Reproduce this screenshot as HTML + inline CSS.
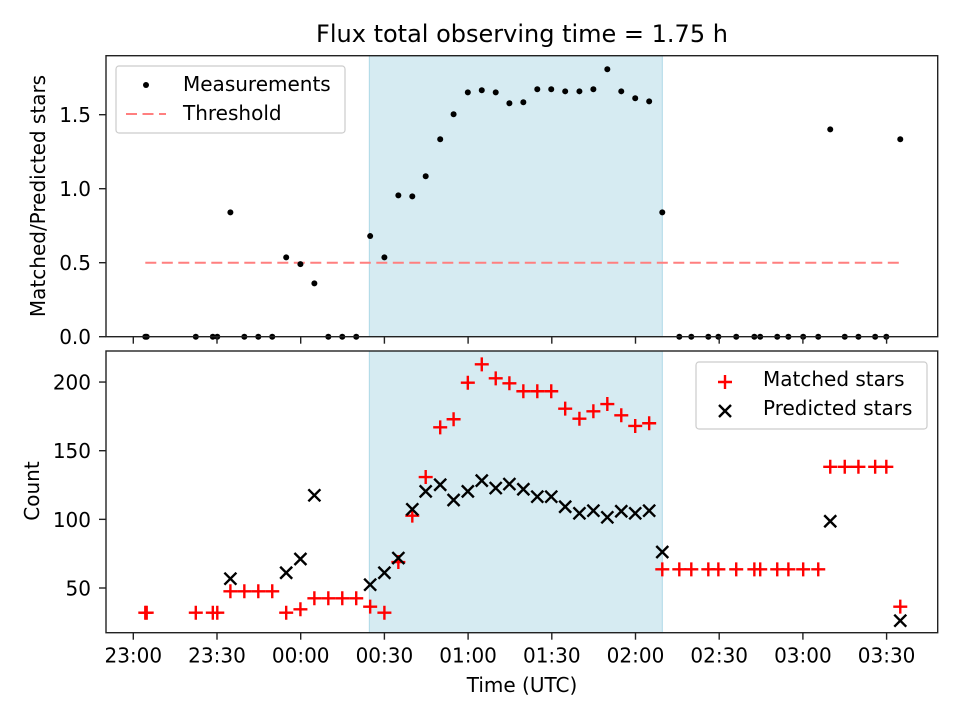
<!DOCTYPE html>
<html><head><meta charset="utf-8"><style>
body{margin:0;background:#fff}
svg text{font-family:"DejaVu Sans","Liberation Sans",sans-serif;fill:#000}
</style></head><body>
<svg id="chart" width="960" height="720" viewBox="0 0 960 720" xmlns="http://www.w3.org/2000/svg">
<rect width="960" height="720" fill="#fff"/>
<text x="522" y="42" font-size="24" text-anchor="middle">Flux total observing time = 1.75 h</text>
<g id="gtop"></g><g id="gbot"></g>
</svg>
<script>
// minutes after 23:00 UTC
const times=[4.3,4.8,22.4,28.5,30.1,34.8,39.8,44.8,49.8,54.8,59.9,64.9,69.9,74.9,79.9,84.9,90.0,95.0,100.0,104.8,110.0,114.8,119.9,124.9,129.9,134.8,139.8,144.8,149.8,154.8,159.9,164.9,169.9,174.9,179.9,184.9,189.6,195.7,200,206.1,209.7,216.1,222.6,224.7,230.8,234.8,240.1,245.5,249.8,255,259.9,265.9,269.9,274.9];
const ratio=[0,0,0,0,0,0.84,0,0,0,0.536,0.49,0.36,0,0,0,0.68,0.536,0.955,0.948,1.084,1.334,1.503,1.651,1.665,1.651,1.577,1.584,1.672,1.672,1.658,1.658,1.672,1.807,1.658,1.611,1.59,0.84,0,0,0,0,0,0,0,0,0,0,0,1.401,0,0,0,0,1.334];
const matched=[32,32,32,32,32,47.6,47.6,47.6,47.6,32,34.5,42.5,42.5,42.5,42.5,36.4,32,68.9,102.7,130.8,167,172.9,199.5,212.9,202.7,199.1,193.3,193.3,193.3,180.6,173.3,178.7,184,175.8,168,170,63.6,63.6,63.6,63.6,63.6,63.6,63.6,63.6,63.6,63.6,63.6,63.6,138.3,138.3,138.3,138.3,138.3,36.4];
const predicted=[null,null,null,null,null,56.8,null,null,null,61.1,71.1,117.5,null,null,null,52.4,61.1,71.8,107.3,120.4,125.2,114.1,120.4,128.2,122.8,125.7,121.9,116.5,116.5,109.2,104.4,106.3,101.5,105.9,104.4,106.3,76.2,null,null,null,null,null,null,null,null,null,null,null,98.6,null,null,null,null,26.2];
const threshold=0.5;
const spanStart=84.6, spanEnd=189.6;
const xTicks=[0,30,60,90,120,150,180,210,240,270];
const xTickLabels=["23:00","23:30","00:00","00:30","01:00","01:30","02:00","02:30","03:00","03:30"];
const topTicks=[0,0.5,1.0,1.5];
const topTickLabels=["0.0","0.5","1.0","1.5"];
const botTicks=[50,100,150,200];
const botTickLabels=["50","100","150","200"];

const NS="http://www.w3.org/2000/svg";
function mk(parent,tag,attrs,text){const e=document.createElementNS(NS,tag);for(const k in attrs)e.setAttribute(k,attrs[k]);if(text!==undefined)e.textContent=text;parent.appendChild(e);return e;}
const AXL=106,AXR=937.7;
const X=m=>133.3+m*2.79;
const PT={top:55.7,bot:336.7};const PB={top:351,bot:632.7};
const Yt=v=>336.7-v*148;
const Yb=v=>588-(v-50)*1.373;
const gTop=document.getElementById('gtop'),gBot=document.getElementById('gbot');
const FS=20;

function frame(g,A,name){
  const s=mk(g,'rect',{x:X(spanStart),y:A.top,width:X(spanEnd)-X(spanStart),height:A.bot-A.top,fill:'#add8e6','fill-opacity':0.5,stroke:'#add8e6','stroke-width':1});
  
  
}
function axes(g,A,name,yt,ytl,Yf,labels){
  const r=mk(g,'rect',{x:AXL,y:A.top,width:AXR-AXL,height:A.bot-A.top,fill:'none',stroke:'#222','stroke-width':1.4});
  
  
  xTicks.forEach((t,i)=>{
    const l=mk(g,'line',{x1:X(t),x2:X(t),y1:A.bot,y2:A.bot+7,stroke:'#222','stroke-width':1.4});
    
    
    if(labels){const tx=mk(g,'text',{x:X(t),y:A.bot+30,'font-size':FS,'text-anchor':'middle'},xTickLabels[i]);
      
      }
  });
  yt.forEach((v,i)=>{
    const l=mk(g,'line',{x1:AXL-7,x2:AXL,y1:Yf(v),y2:Yf(v),stroke:'#222','stroke-width':1.4});
    
    
    const tx=mk(g,'text',{x:AXL-15,y:Yf(v)+7.5,'font-size':FS,'text-anchor':'end'},ytl[i]);
    
    
  });
}
// top panel
frame(gTop,PT,'top');
const th=mk(gTop,'line',{x1:X(times[0]),x2:X(times[times.length-1]),y1:Yt(threshold),y2:Yt(threshold),stroke:'#ff7f7f','stroke-width':2,'stroke-dasharray':'11,5.5'});


times.forEach((t,i)=>{
  const c=mk(gTop,'circle',{cx:X(t),cy:Yt(ratio[i]),r:3,fill:'#000'});
  
  
});
axes(gTop,PT,'top',topTicks,topTickLabels,Yt,false);
// bottom panel
frame(gBot,PB,'bottom');
function plus(g,x,y,col){return mk(g,'path',{d:`M${x-7},${y}H${x+7}M${x},${y-7}V${y+7}`,stroke:col,'stroke-width':2.4,fill:'none'});}
function cross(g,x,y,col){return mk(g,'path',{d:`M${x-6},${y-6}L${x+6},${y+6}M${x-6},${y+6}L${x+6},${y-6}`,stroke:col,'stroke-width':2.4,fill:'none'});}
times.forEach((t,i)=>{
  const p=plus(gBot,X(t),Yb(matched[i]),'#f00');
  
  
});
times.forEach((t,i)=>{
  if(predicted[i]===null)return;
  const p=cross(gBot,X(t),Yb(predicted[i]),'#000');
  
  
});
axes(gBot,PB,'bottom',botTicks,botTickLabels,Yb,true);

// labels
const svg=document.getElementById('chart');
let e=mk(svg,'text',{x:522,y:692,'font-size':FS,'text-anchor':'middle'},'Time (UTC)');


e=mk(svg,'text',{x:0,y:0,'font-size':FS,'text-anchor':'middle',transform:'translate(45,196) rotate(-90)'},'Matched/Predicted stars');


e=mk(svg,'text',{x:0,y:0,'font-size':FS,'text-anchor':'middle',transform:'translate(39,491) rotate(-90)'},'Count');



// legends
const lg1=mk(svg,'g',{});


mk(lg1,'rect',{x:116,y:66,width:229,height:67,rx:3,fill:'#fff','fill-opacity':0.8,stroke:'#ccc','stroke-width':1.2});
e=mk(lg1,'circle',{cx:146,cy:85,r:3,fill:'#000'});


e=mk(lg1,'text',{x:183,y:91,'font-size':FS},'Measurements');


e=mk(lg1,'line',{x1:126,x2:166,y1:114,y2:114,stroke:'#ff7f7f','stroke-width':2,'stroke-dasharray':'11,5.5'});


e=mk(lg1,'text',{x:183,y:120,'font-size':FS},'Threshold');



const lg2=mk(svg,'g',{});


mk(lg2,'rect',{x:696,y:362,width:231,height:67,rx:3,fill:'#fff','fill-opacity':0.8,stroke:'#ccc','stroke-width':1.2});
e=plus(lg2,725,382,'#f00');


e=mk(lg2,'text',{x:763,y:386,'font-size':FS},'Matched stars');


e=cross(lg2,725,411,'#000');


e=mk(lg2,'text',{x:763,y:415,'font-size':FS},'Predicted stars');


</script>
</body></html>
